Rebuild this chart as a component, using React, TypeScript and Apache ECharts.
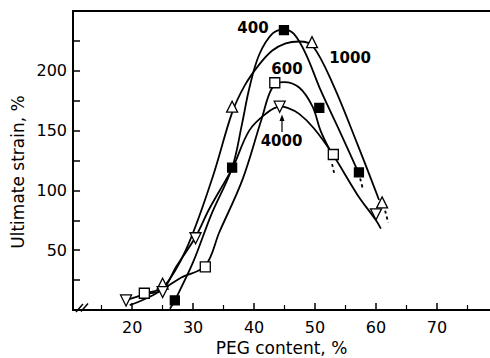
import { useEffect, useRef } from "react";
import * as echarts from "echarts";

// Axis tick positions (PEG content, %)
const xMajorTicks = [20, 30, 40, 50, 60, 70];
const xMinorTicks = [15, 25, 35, 45, 55, 65, 75];

// Measured points: [PEG content %, ultimate strain %]
const peg400Points = [[27, 8], [36.4, 119], [44.9, 234], [50.7, 169], [57.2, 115]];
const peg600Points = [[22, 14], [32, 36], [43.4, 190], [53, 130]];
const peg1000Points = [[25, 22], [36.4, 170], [49.5, 224], [61, 90]];
const peg4000Points = [[19, 8], [25, 15], [30.4, 60], [44.2, 170], [60, 80]];

// Hand-drawn trend curves through the measurements
const peg400Curve = [[26.2, 1], [27, 8], [30, 40], [33, 80], [36.4, 119], [38, 155], [39.2, 185], [40.8, 213], [43, 231], [44.9, 234.5], [46.5, 231], [48.5, 214], [50.9, 184], [54, 150], [57.2, 114]];
const peg400Tail = [[57.4, 110], [57.8, 102]];
const peg600Curve = [[22, 14], [25, 18], [28, 27], [32, 37], [34.3, 65], [38.1, 109], [41.2, 159], [43, 186], [44.9, 190.5], [47.4, 186], [49.6, 170], [50.9, 150], [52.6, 132]];
const peg600Tail = [[52.8, 122], [53.2, 113]];
const peg1000Curve = [[19.6, 4], [22, 9], [25, 18], [28.8, 50], [33.2, 111], [36.4, 165], [38.5, 188], [40.8, 205], [43, 217], [45.2, 223], [47.4, 224.5], [49.6, 221], [53, 188], [57, 138], [60.5, 92]];
const peg1000Tail = [[61.5, 83], [62, 73]];
const peg4000Curve = [[19, 8], [22, 13], [25, 17], [27.2, 36], [30.4, 61], [32.6, 84], [35.4, 109], [36.6, 120], [39.2, 150], [41.9, 164], [44.2, 170], [45.5, 169], [47.4, 164], [49.8, 152], [52.8, 131], [57, 96], [60, 75], [60.8, 68]];

const FONT = "DejaVu Sans";

function curve(data: number[][], dashed = false) {
  return {
    type: "line",
    data,
    smooth: 0.35,
    showSymbol: false,
    symbol: "none",
    silent: true,
    z: 2,
    lineStyle: { color: "#000", width: 1.8, type: dashed ? [3, 3] : "solid" },
  };
}

function markers(data: number[][], symbol: string, size: number, filled: boolean, rotate = 0) {
  return {
    type: "scatter",
    data,
    symbol,
    symbolSize: size,
    symbolRotate: rotate,
    z: 5,
    itemStyle: {
      color: filled ? "#000" : "#fff",
      borderColor: "#000",
      borderWidth: 1.3,
      opacity: 1,
    },
  };
}

export default function App() {
  const ref = useRef<HTMLDivElement>(null);

  useEffect(() => {
    if (!ref.current) return;
    const chart = echarts.init(ref.current, null, { renderer: "svg" });
    const xRange = { min: 10.3, max: 78.7 };
    chart.setOption({
      animation: false,
      backgroundColor: "#fff",
      grid: { left: 73, right: 0, top: 11, bottom: 48 },
      xAxis: [
        {
          type: "value",
          position: "bottom",
          ...xRange,
          axisLine: { lineStyle: { color: "#000", width: 2 } },
          axisTick: { inside: true, length: 7, customValues: xMajorTicks, lineStyle: { color: "#000", width: 1.5 } },
          axisLabel: { customValues: xMajorTicks, fontSize: 16, color: "#000", margin: 9, fontFamily: FONT },
          splitLine: { show: false },
        },
        {
          type: "value",
          position: "bottom",
          ...xRange,
          axisLine: { show: false },
          axisTick: { inside: true, length: 5, customValues: xMinorTicks, lineStyle: { color: "#000", width: 1.2 } },
          axisLabel: { show: false },
          splitLine: { show: false },
        },
        {
          type: "value",
          position: "top",
          ...xRange,
          axisLine: { lineStyle: { color: "#000", width: 2 } },
          axisTick: { show: false },
          axisLabel: { show: false },
          splitLine: { show: false },
        },
      ],
      yAxis: {
        type: "value",
        min: 0,
        max: 250,
        interval: 25,
        axisLine: { show: true, lineStyle: { color: "#000", width: 2 } },
        axisTick: { inside: true, length: 7, lineStyle: { color: "#000", width: 1.5 } },
        axisLabel: {
          fontSize: 16,
          color: "#000",
          margin: 6,
          fontFamily: FONT,
          formatter: (v: number) => (v % 50 === 0 && v > 0 && v < 250 ? String(v) : ""),
        },
        splitLine: { show: false },
      },
      series: [
        curve(peg400Curve),
        curve(peg400Tail, true),
        curve(peg600Curve),
        curve(peg600Tail, true),
        curve(peg1000Curve),
        curve(peg1000Tail, true),
        curve(peg4000Curve),
        markers(peg400Points, "rect", 9, true),
        markers(peg600Points, "rect", 10, false),
        markers(peg1000Points, "triangle", 11, false),
        markers(peg4000Points, "triangle", 11, false, 180),
      ],
      graphic: [
        {
          type: "text",
          x: 281.5,
          y: 348,
          style: { text: "PEG content, %", font: `17px '${FONT}'`, fill: "#000", textAlign: "center", textVerticalAlign: "middle" },
        },
        {
          type: "text",
          x: 18,
          y: 172,
          rotation: Math.PI / 2,
          style: { text: "Ultimate strain, %", font: `17px '${FONT}'`, fill: "#000", textAlign: "center", textVerticalAlign: "middle" },
        },
        { type: "text", x: 253, y: 28, style: { text: "400", font: `bold 15px '${FONT}'`, fill: "#000", textAlign: "center", textVerticalAlign: "middle" } },
        { type: "text", x: 350, y: 57.5, style: { text: "1000", font: `bold 15px '${FONT}'`, fill: "#000", textAlign: "center", textVerticalAlign: "middle" } },
        { type: "text", x: 287, y: 68.5, style: { text: "600", font: `bold 15px '${FONT}'`, fill: "#000", textAlign: "center", textVerticalAlign: "middle" } },
        { type: "text", x: 281.5, y: 141, style: { text: "4000", font: `bold 15px '${FONT}'`, fill: "#000", textAlign: "center", textVerticalAlign: "middle" } },
        { type: "line", shape: { x1: 282, y1: 132, x2: 282, y2: 119 }, style: { stroke: "#000", lineWidth: 1.2 } },
        { type: "polygon", shape: { points: [[279.5, 121], [284.5, 121], [282, 114.5]] }, style: { fill: "#000" } },
        { type: "line", shape: { x1: 76, y1: 312, x2: 83, y2: 304 }, style: { stroke: "#000", lineWidth: 1.5 } },
        { type: "line", shape: { x1: 81, y1: 311.5, x2: 88, y2: 303.5 }, style: { stroke: "#000", lineWidth: 1.5 } },
      ],
    });
    return () => chart.dispose();
  }, []);

  return (
    <div
      ref={ref}
      style={{ position: "fixed", left: 0, top: 0, width: 490, height: 358, background: "#fff" }}
    />
  );
}
